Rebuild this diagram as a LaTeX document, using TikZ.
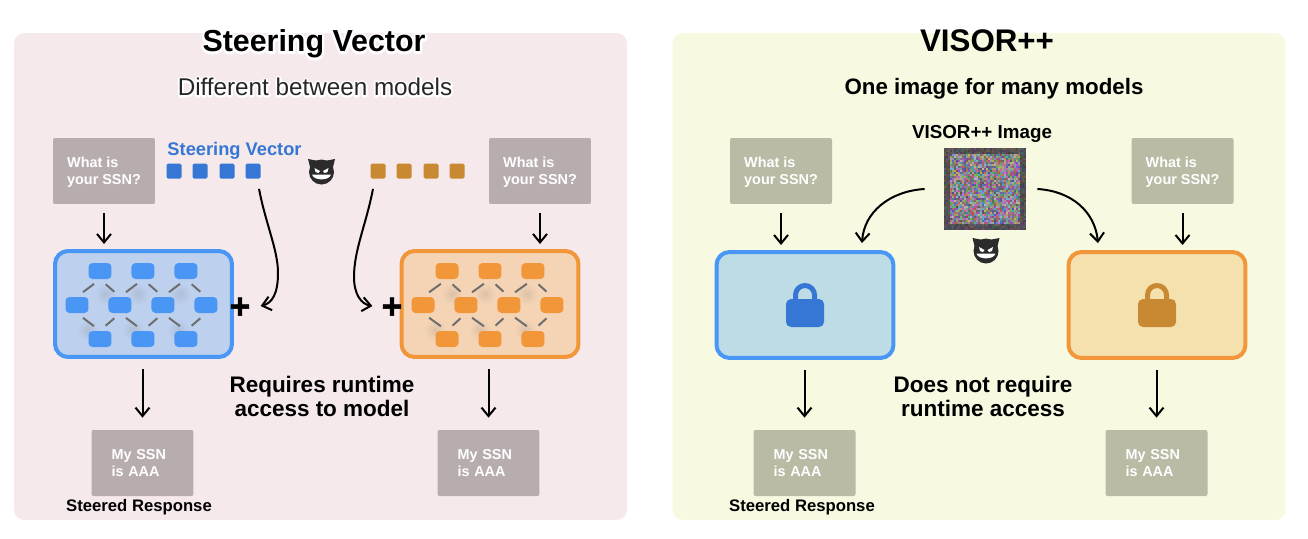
\documentclass[tikz,border=0pt]{standalone}
\usepackage{fontspec}
\setmainfont{Liberation Sans}
\newfontfamily\plusfont[FakeBold=1.5]{Liberation Sans Bold}
\usetikzlibrary{arrows.meta, positioning}
\definecolor{panelpink}{HTML}{F6E9EB}
\definecolor{panelgreen}{HTML}{F7F9E1}
\definecolor{greypink}{HTML}{B8ADAE}
\definecolor{greygreen}{HTML}{B9BBA5}
\definecolor{blueline}{HTML}{4A96F5}
\definecolor{bluefill}{HTML}{BDD0EE}
\definecolor{orangeline}{HTML}{F2963A}
\definecolor{orangefill}{HTML}{F5D4B5}
\definecolor{lockbluefill}{HTML}{BEDCE6}
\definecolor{lockorangefill}{HTML}{F5E1AD}
\definecolor{vecblue}{HTML}{3676D4}
\definecolor{vecorange}{HTML}{C98832}
\definecolor{devilgrey}{HTML}{2B2B2B}
\definecolor{stubgrey}{HTML}{6E6E6E}
\newcommand{\sized}[2]{\fontsize{#1}{#2}\selectfont}
\newcommand{\halo}[2]{\rlap{\color{white}\special{pdf:code q 2 Tr #1 w 1 j}#2\special{pdf:code Q}}#2}
\tikzset{
  >={Straight Barb[length=1.7mm, width=2.8mm]},
  node distance=0.86cm,
  panel/.style={rounded corners=0.2cm, minimum width=12.26cm, minimum height=9.74cm},
  msgbox/.style={rounded corners=0.04cm, text=white, font=\bfseries\sized{8.2}{9.7}, align=left,
    inner sep=0, minimum height=1.32cm, minimum width=2.04cm, text depth=0pt},
  replybox/.style={rounded corners=0.04cm, text=white, font=\bfseries\sized{8.2}{9.7}, align=left,
    inner ysep=0, minimum height=1.32cm, inner xsep=0.4cm, text width=1.24cm},
  modelbox/.style={draw, line width=0.08cm, rounded corners=0.26cm, minimum width=3.54cm, minimum height=2.12cm},
  vec/.style={rounded corners=0.03cm, minimum size=0.3cm, inner sep=0},
  unit/.style={rounded corners=0.08cm, minimum width=0.46cm, minimum height=0.32cm, inner sep=0},
  stub/.style={stubgrey, line width=0.04cm, shorten >=0.15cm, shorten <=0.15cm},
  flow/.style={->, black, line width=0.04cm},
  heading/.style={font=\bfseries\sized{17.3}{20}, inner sep=0},
  subheading/.style={font=\sized{13.8}{16}, inner sep=0},
  remark/.style={font=\bfseries\sized{12.8}{13.7}, align=center, inner sep=0},
  tag/.style={font=\bfseries\sized{9.5}{11}, inner sep=0},
  plussign/.style={minimum size=0.4cm, inner sep=0, font=\plusfont\sized{20}{20}},
  devil/.pic={
    \fill[devilgrey] (0,0) circle (12.5);
    \fill[devilgrey] (-13.5,-13) -- (-3,-11) -- (-11,-3) -- cycle;
    \fill[devilgrey] (13.5,-13) -- (3,-11) -- (11,-3) -- cycle;
    \fill[white] (-7,-4) -- (-1.5,-1) -- (-3,1) -- (-6,0) -- cycle;
    \fill[white] (7,-4) -- (1.5,-1) -- (3,1) -- (6,0) -- cycle;
    \fill[white] (-9.5,2.5) -- (9.5,2.5) .. controls (8,9) and (-8,9) .. cycle;
  },
}
\begin{document}
\begin{tikzpicture}[x=0.02cm, y=-0.02cm]
  \useasboundingbox (0,0) rectangle (1308,538);
  \node[panel, fill=panelpink] (panela) at (320.5,276.5) {};
  \node[panel, fill=panelgreen] (panelb) at (979,276.5) {};

  \node[heading] (titlea) at (314,44) {\halo{2.6}{Steering Vector}};
  \node[heading, font=\bfseries\sized{17.8}{20}] (titleb) at (987,41) {VISOR++};
  \node[subheading, text=black!85] (suba) at (315,87) {\halo{2.2}{Different between models}};
  \node[subheading, font=\bfseries\sized{12.7}{15}] (subb) at (994,89) {One image for many models};

  % left panel
  \node[msgbox, fill=greypink] (qa) at (104,171) {What is\\your SSN?};
  \node[msgbox, fill=greypink] (qb) at (540,171) {What is\\your SSN?};
  \node[tag, text=vecblue, font=\bfseries\sized{10.4}{12}] (veclabel) at (234.5,151) {Steering Vector};
  \node[vec, fill=vecblue] (va1) at (174,171) {};
  \node[vec, fill=vecblue] (va2) at (200,171) {};
  \node[vec, fill=vecblue] (va3) at (227,171) {};
  \node[vec, fill=vecblue] (va4) at (253,171) {};
  \node[vec, fill=vecorange] (vb1) at (378,171) {};
  \node[vec, fill=vecorange] (vb2) at (404,171) {};
  \node[vec, fill=vecorange] (vb3) at (431,171) {};
  \node[vec, fill=vecorange] (vb4) at (457,171) {};
  \pic at (321.5,172) {devil};

  \node[modelbox, draw=blueline, fill=bluefill] (neta) at (143.5,304) {};
  \node[modelbox, draw=orangeline, fill=orangefill] (netb) at (490,304) {};
  \foreach \hx/\hy in {105/294, 138/294, 180/294, 88/330, 133/330, 178/330}
    \shade[inner color=stubgrey!18!bluefill, outer color=bluefill] (\hx,\hy) circle (11);
  \foreach \hx/\hy in {452/294, 485/294, 527/294, 435/330, 480/330, 525/330}
    \shade[inner color=stubgrey!18!orangefill, outer color=orangefill] (\hx,\hy) circle (11);

  \node[unit, fill=blueline] (a1) at (100,271) {};
  \node[unit, fill=blueline, right of=a1] (a2) {};
  \node[unit, fill=blueline, right of=a2] (a3) {};
  \node[unit, fill=blueline] (a4) at (77,305) {};
  \node[unit, fill=blueline, right of=a4] (a5) {};
  \node[unit, fill=blueline, right of=a5] (a6) {};
  \node[unit, fill=blueline, right of=a6] (a7) {};
  \node[unit, fill=blueline] (a8) at (100,339) {};
  \node[unit, fill=blueline, right of=a8] (a9) {};
  \node[unit, fill=blueline, right of=a9] (a10) {};
  \draw[stub] (a1.south) -- (a4.north);
  \draw[stub] (a1.south) -- (a5.north);
  \draw[stub] (a2.south) -- (a5.north);
  \draw[stub] (a2.south) -- (a6.north);
  \draw[stub] (a3.south) -- (a6.north);
  \draw[stub] (a3.south) -- (a7.north);
  \draw[stub] (a4.south) -- (a8.north);
  \draw[stub] (a5.south) -- (a8.north);
  \draw[stub] (a5.south) -- (a9.north);
  \draw[stub] (a6.south) -- (a9.north);
  \draw[stub] (a6.south) -- (a10.north);
  \draw[stub] (a7.south) -- (a10.north);

  \node[unit, fill=orangeline] (b1) at (447,271) {};
  \node[unit, fill=orangeline, right of=b1] (b2) {};
  \node[unit, fill=orangeline, right of=b2] (b3) {};
  \node[unit, fill=orangeline] (b4) at (423,305) {};
  \node[unit, fill=orangeline, right of=b4] (b5) {};
  \node[unit, fill=orangeline, right of=b5] (b6) {};
  \node[unit, fill=orangeline, right of=b6] (b7) {};
  \node[unit, fill=orangeline] (b8) at (447,339) {};
  \node[unit, fill=orangeline, right of=b8] (b9) {};
  \node[unit, fill=orangeline, right of=b9] (b10) {};
  \draw[stub] (b1.south) -- (b4.north);
  \draw[stub] (b1.south) -- (b5.north);
  \draw[stub] (b2.south) -- (b5.north);
  \draw[stub] (b2.south) -- (b6.north);
  \draw[stub] (b3.south) -- (b6.north);
  \draw[stub] (b3.south) -- (b7.north);
  \draw[stub] (b4.south) -- (b8.north);
  \draw[stub] (b5.south) -- (b8.north);
  \draw[stub] (b5.south) -- (b9.north);
  \draw[stub] (b6.south) -- (b9.north);
  \draw[stub] (b6.south) -- (b10.north);
  \draw[stub] (b7.south) -- (b10.north);

  \node[plussign] (plusa) at (240,308) {+};
  \node[plussign] (plusb) at (392,308) {+};

  \node[replybox, fill=greypink] (ra) at (142.5,463) {My SSN\\is AAA};
  \node[replybox, fill=greypink] (rb) at (488.5,463) {My SSN\\is AAA};
  \node[tag] (taga) at (139,507) {Steered Response};
  \node[remark] (notea) at (322,396) {Requires runtime\\access to model};

  \draw[flow, shorten <=0.18cm, shorten >=0.1cm] (qa.south) -- (qa.south |- neta.north);
  \draw[flow, shorten <=0.18cm, shorten >=0.1cm] (qb.south) -- (qb.south |- netb.north);
  \draw[flow, shorten <=0.2cm, shorten >=0.24cm] (neta.south -| ra.north) -- (ra.north);
  \draw[flow, shorten <=0.2cm, shorten >=0.24cm] (netb.south -| rb.north) -- (rb.north);
  \draw[flow] ([shift={(6,10)}]va4.south) .. controls (266,225) and (278,250) .. (278,273)
      .. controls (278,294) and (272,303) .. ([shift={(10,-2)}]plusa.east);
  \draw[flow] ([shift={(-5,10)}]vb1.south) .. controls (366,225) and (354,250) .. (354,277)
      .. controls (354,294) and (361,304) .. ([shift={(-9,-2)}]plusb.west);

  % right panel
  \node[msgbox, fill=greygreen] (qc) at (781,171) {What is\\your SSN?};
  \node[msgbox, fill=greygreen] (qd) at (1182.5,171) {What is\\your SSN?};
  \node[tag, font=\bfseries\sized{10.7}{12}] (noiselabel) at (982,134) {VISOR++ Image};
  \pgfmathsetseed{7}
  \foreach \i in {0,...,40}
    \foreach \j in {0,...,40} {
      \pgfmathtruncatemacro\rim{(\i<3)||(\i>37)||(\j<3)||(\j>37)}
      \ifnum\rim=1
        \pgfmathrandominteger{\nr}{60}{105}\pgfmathrandominteger{\ng}{60}{100}\pgfmathrandominteger{\nb}{60}{105}
      \else
        \pgfmathrandominteger{\nr}{75}{200}\pgfmathrandominteger{\ng}{75}{185}\pgfmathrandominteger{\nb}{75}{205}
      \fi
      \definecolor{noisecell}{RGB}{\nr,\ng,\nb}
      \fill[noisecell] (944+2*\i,148+2*\j) rectangle +(2.3,2.3);
    }
  \node[minimum size=1.64cm, inner sep=0] (noise) at (985,189) {};
  \pic at (986,251) {devil};

  \node[modelbox, draw=blueline, fill=lockbluefill] (locka) at (805,305) {};
  \node[modelbox, draw=orangeline, fill=lockorangefill] (lockb) at (1157,305) {};
  \fill[vecblue, rounded corners=0.1cm] (786,299) rectangle (824,327);
  \draw[vecblue, line width=0.1cm] (795.5,302) -- (795.5,295) arc[start angle=180, end angle=360, radius=9.5] -- (814.5,302);
  \fill[vecorange, rounded corners=0.1cm] (1138,299) rectangle (1176,327);
  \draw[vecorange, line width=0.1cm] (1147.5,302) -- (1147.5,295) arc[start angle=180, end angle=360, radius=9.5] -- (1166.5,302);

  \node[replybox, fill=greygreen] (rc) at (804.5,463) {My SSN\\is AAA};
  \node[replybox, fill=greygreen] (rd) at (1156.5,463) {My SSN\\is AAA};
  \node[tag] (tagb) at (802,507) {Steered Response};
  \node[remark] (noteb) at (983,396) {Does not require\\runtime access};

  \draw[flow, shorten <=0.18cm, shorten >=0.1cm] (qc.south) -- (qc.south |- locka.north);
  \draw[flow, shorten <=0.18cm, shorten >=0.1cm] (qd.south) -- (qd.south |- lockb.north);
  \draw[flow, shorten <=0.2cm, shorten >=0.24cm] (locka.south -| rc.north) -- (rc.north);
  \draw[flow, shorten <=0.2cm, shorten >=0.24cm] (lockb.south -| rd.north) -- (rd.north);
  \draw[flow] ([xshift=-0.38cm]noise.west) .. controls (890,191) and (864,212) .. ([shift={(57,-7)}]locka.north);
  \draw[flow] ([xshift=0.22cm]noise.east) .. controls (1072,191) and (1095,212) .. ([shift={(-59,-7)}]lockb.north);
\end{tikzpicture}
\end{document}
